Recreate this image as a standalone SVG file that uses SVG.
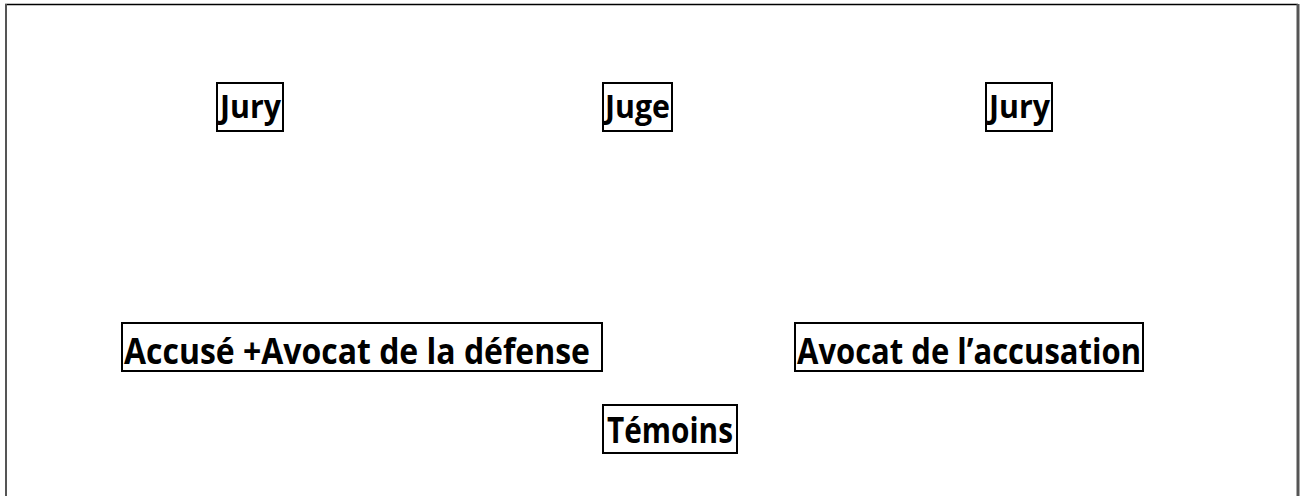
<svg xmlns="http://www.w3.org/2000/svg" width="1303" height="496" viewBox="0 0 1303 496">
<style>
.box{fill:#fff;stroke:#000;stroke-width:2}
.t{font-family:"Open Sans","Liberation Sans",Arial,sans-serif;font-weight:bold;fill:#000}
.s{font-size:32px}
.b{font-size:35px}
</style>
<rect x="0" y="0" width="1303" height="496" fill="#fff"/>
<g id="frame">
<line x1="5" y1="4.5" x2="1298" y2="4.5" stroke="#000" stroke-width="1.5"/>
<line x1="6" y1="4" x2="6" y2="496" stroke="#555" stroke-width="2"/>
<line x1="1298" y1="4" x2="1298" y2="496" stroke="#555" stroke-width="3"/>
</g>
<g id="connectors"></g>
<g id="jury-left">
<rect class="box" x="217" y="83" width="66" height="48"/>
<text class="t s" x="220" y="118" textLength="61" lengthAdjust="spacingAndGlyphs">Jury</text>
</g>
<g id="juge">
<rect class="box" x="603" y="83" width="69" height="48"/>
<text class="t s" x="605" y="118" textLength="65" lengthAdjust="spacingAndGlyphs">Juge</text>
</g>
<g id="jury-right">
<rect class="box" x="986" y="83" width="66" height="48"/>
<text class="t s" x="989" y="118" textLength="61" lengthAdjust="spacingAndGlyphs">Jury</text>
</g>
<g id="defense">
<rect class="box" x="122" y="323" width="480" height="48"/>
<text class="t b" x="124" y="364" textLength="466" lengthAdjust="spacingAndGlyphs">Accusé +Avocat de la défense</text>
</g>
<g id="accusation">
<rect class="box" x="795" y="323" width="348" height="48"/>
<text class="t b" x="797" y="364" textLength="344" lengthAdjust="spacingAndGlyphs">Avocat de l’accusation</text>
</g>
<g id="temoins">
<rect class="box" x="603" y="405" width="134" height="48"/>
<text class="t b" x="607" y="443" textLength="126" lengthAdjust="spacingAndGlyphs">Témoins</text>
</g>
</svg>
